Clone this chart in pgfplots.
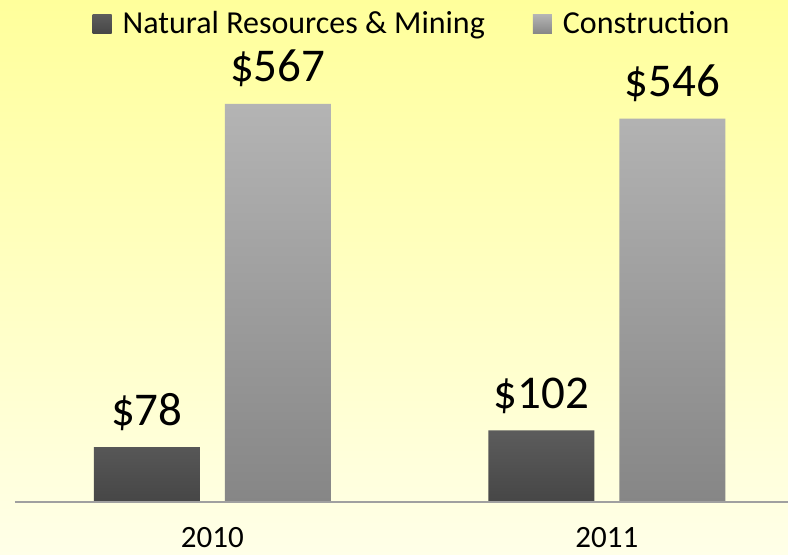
\documentclass[border=0pt]{standalone}
\usepackage{pgfplots}
\pgfplotsset{compat=1.18}
\usepackage{fontspec}
\setmainfont{Carlito}
\usetikzlibrary{backgrounds}

\definecolor{bgtop}{RGB}{255,255,155}
\definecolor{bgbot}{RGB}{255,255,232}
\definecolor{darktop}{RGB}{92,92,92}
\definecolor{darkbot}{RGB}{70,70,70}
\definecolor{lighttop}{RGB}{180,180,180}
\definecolor{lightbot}{RGB}{134,134,134}
\definecolor{axisgray}{RGB}{160,160,160}

\begin{document}
\begin{tikzpicture}
\begin{axis}[
name=ax,
scale only axis,
width=386.5pt, height=251pt,
xmin=-0.5, xmax=1.459,
ymin=0, ymax=715,
ybar=12.5pt,
bar width=53pt,
axis y line=none,
axis x line*=bottom,
axis line style={draw=none},
xtick={0,1},
xticklabels={2010,2011},
xticklabel style={font=\fontsize{15.5}{18}\selectfont, anchor=base, yshift=-23pt},
major tick length=0pt,
clip=false,
/pgf/number format/assume math mode=true,
nodes near coords={\$\pgfmathprintnumber{\pgfplotspointmeta}},
every node near coord/.append style={font=\fontsize{23.5}{28}\selectfont, black, anchor=base, yshift=11pt, inner sep=0pt},
legend columns=2,
legend style={at={(0.515,0.952)}, anchor=center, draw=none, fill=none,
  font=\fontsize{16}{19}\selectfont, /tikz/every even column/.append style={column sep=22pt}},
]

\addplot[draw=none, top color=darktop, bottom color=darkbot,
  legend image code/.code={\path (0pt,0pt) -- (13pt,0pt);
    \shade[top color=darktop, bottom color=darkbot] (0pt,-4.8pt) rectangle (9.5pt,4.7pt);}]
  coordinates {(0,78) (1,102)};
\addlegendentry{Natural Resources \& Mining}

\addplot[draw=none, top color=lighttop, bottom color=lightbot,
  legend image code/.code={\path (0pt,0pt) -- (13pt,0pt);
    \shade[top color=lighttop, bottom color=lightbot] (0pt,-4.8pt) rectangle (9.5pt,4.7pt);}]
  coordinates {(0,567) (1,546)};
\addlegendentry{Construction}

\draw[axisgray, line width=0.8pt] (axis cs:-0.5,0) -- (axis cs:1.459,0);
\end{axis}

\begin{scope}[on background layer]
\shade[top color=bgtop, bottom color=bgbot]
  ([xshift=-7.5pt, yshift=-26.5pt]ax.south west) rectangle (ax.north east);
\end{scope}
\pgfresetboundingbox
\path ([xshift=-7.5pt, yshift=-26.5pt]ax.south west) rectangle (ax.north east);
\end{tikzpicture}
\end{document}
